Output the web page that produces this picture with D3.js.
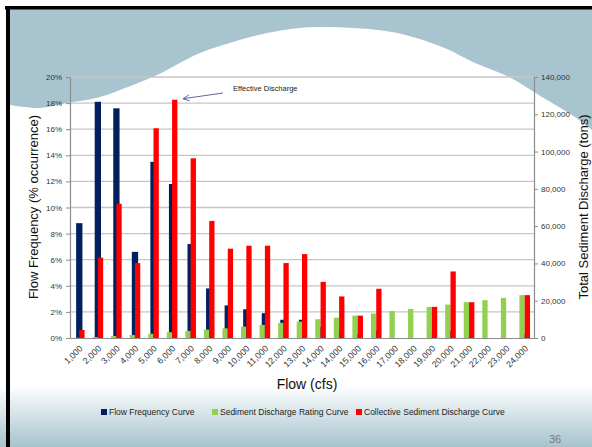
<!DOCTYPE html>
<html><head><meta charset="utf-8">
<script src="https://cdn.jsdelivr.net/npm/d3@7/dist/d3.min.js"></script>
<style>
body{margin:0;background:#fff;}
svg{display:block;font-family:"Liberation Sans",Arial,sans-serif;}
</style>
</head><body><svg id="c" width="592" height="447"></svg>
<script>
const categories = ["1,000","2,000","3,000","4,000","5,000","6,000","7,000","8,000","9,000","10,000","11,000","12,000","13,000","14,000","14,000","15,000","16,000","17,000","18,000","19,000","20,000","21,000","22,000","23,000","24,000"];
// Flow frequency (% occurrence) - left axis
const flowFrequency = [8.8,18.1,17.6,6.6,13.5,11.8,7.2,3.8,2.5,2.2,1.9,1.4,1.4,0.84,0.56,0.28,0.56,0,0,0.28,0.56,0.28,0,0,0.28];
// Sediment discharge rating (tons) - right axis
const sedimentRating = [150,500,1100,1600,2300,3100,3800,4500,5200,6100,7000,8100,8800,10100,10900,12000,13100,14500,15600,16700,17900,19200,20300,21500,23000];
// Collective sediment discharge (tons) - right axis
const collectiveSediment = [4300,43100,72000,40200,112500,127800,96400,62800,47900,49500,49500,40200,45000,30100,22300,12000,26400,0,0,16700,35700,19200,0,0,23000];
const leftTicks = [0,2,4,6,8,10,12,14,16,18,20];
const rightTicks = [0,20000,40000,60000,80000,100000,120000,140000];
const seriesNames = ["Flow Frequency Curve","Sediment Discharge Rating Curve","Collective Sediment Discharge Curve"];
const seriesColors = ["#002060","#92d050","#ff0000"];

const svg = d3.select("#c");
const defs = svg.append("defs");
const grad = defs.append("linearGradient").attr("id","bg").attr("x1",0).attr("y1",0).attr("x2",0).attr("y2",1);
grad.append("stop").attr("offset","0").attr("stop-color","#ffffff");
grad.append("stop").attr("offset","1").attr("stop-color","#a6c3cd");
svg.append("rect").attr("x",0).attr("y",385).attr("width",592).attr("height",62).attr("fill","url(#bg)");

// decorative wave
const wavePts = [[10,105],[40,108],[67,103],[100,97],[133,85],[157,75],[200,53],[233,42],[267,33],[300,28],[325,27],[392,32],[442,47],[475,63],[509,77],[542,97],[575,117],[592,130]];
const ws = d3.line().curve(d3.curveCatmullRom)(wavePts);
svg.append("path").attr("d","M10,9L"+ws.slice(1)+"L592,9Z").attr("fill","#a8c5cf");

// frame
svg.append("rect").attr("x",5).attr("y",6).attr("width",587).attr("height",3.5).attr("fill","#000");
svg.append("rect").attr("x",6).attr("y",6).attr("width",4).attr("height",441).attr("fill","#000");

const X0=70, X1=534, Y0=77, Y1=338;
const x = d3.scaleBand().domain(d3.range(categories.length)).range([X0,X1]);
const yL = d3.scaleLinear().domain([0,20]).range([Y1,Y0]);
const yR = d3.scaleLinear().domain([0,140000]).range([Y1,Y0]);
const bw = x.bandwidth();

// gridlines
svg.append("g").selectAll("line").data(leftTicks.filter(d=>d>0)).join("line")
  .attr("x1",X0).attr("x2",X1).attr("y1",d=>yL(d)).attr("y2",d=>yL(d))
  .attr("stroke","#c6c6c6").attr("stroke-width",1.3);

// bars
const cx = i => x(i)+bw/2;
const bBlue = 6.3, bSec = 5.3;
svg.append("g").selectAll("rect").data(flowFrequency).join("rect")
  .attr("x",(d,i)=>cx(i)-bBlue/2).attr("width",bBlue)
  .attr("y",d=>yL(d)).attr("height",d=>Y1-yL(d)).attr("fill",seriesColors[0]);
svg.append("g").selectAll("rect").data(sedimentRating).join("rect")
  .attr("x",(d,i)=>cx(i)-bSec).attr("width",bSec)
  .attr("y",d=>yR(d)).attr("height",d=>Y1-yR(d)).attr("fill",seriesColors[1]);
svg.append("g").selectAll("rect").data(collectiveSediment).join("rect")
  .attr("x",(d,i)=>cx(i)).attr("width",bSec)
  .attr("y",d=>yR(d)).attr("height",d=>Y1-yR(d)).attr("fill",seriesColors[2]);

// axes
const axL = svg.append("g").attr("transform",`translate(${X0},0)`)
  .call(d3.axisLeft(yL).tickValues(leftTicks).tickFormat(d=>d+"%").tickSize(4).tickSizeOuter(0).tickPadding(4));
const axR = svg.append("g").attr("transform",`translate(${X1},0)`)
  .call(d3.axisRight(yR).tickValues(rightTicks).tickFormat(d3.format(",")).tickSize(4).tickSizeOuter(0).tickPadding(3));
const axB = svg.append("g").attr("transform",`translate(0,${Y1})`)
  .call(d3.axisBottom(x).tickSize(0).tickSizeOuter(0).tickFormat(i=>categories[i]).tickPadding(0));
[axL,axR,axB].forEach(a=>{
  a.select(".domain").attr("stroke","#8c8c8c").attr("stroke-width",1.2);
  a.selectAll(".tick line").attr("stroke","#8c8c8c");
  a.selectAll("text").attr("font-size",8).attr("fill","#333").attr("font-family","'Liberation Sans',Arial,sans-serif");
});
axB.selectAll("text").attr("text-anchor","end").attr("dy",0).attr("font-size",8.8)
  .attr("transform","translate(4,11) rotate(-45)");

// titles
svg.append("text").attr("transform","translate(38,207) rotate(-90)").attr("text-anchor","middle")
  .attr("font-size",13).attr("fill","#111").text("Flow Frequency (% occurrence)");
svg.append("text").attr("transform","translate(588,207) rotate(-90)").attr("text-anchor","middle")
  .attr("font-size",13).attr("fill","#111").text("Total Sediment Discharge (tons)");
svg.append("text").attr("x",307).attr("y",389).attr("text-anchor","middle")
  .attr("font-size",14).attr("fill","#111").text("Flow (cfs)");

// annotation
svg.append("text").attr("x",233).attr("y",91).attr("font-size",7.5).attr("fill","#222").text("Effective Discharge");
const ax1=223, ay1=93, ax2=183, ay2=yR(collectiveSediment[5])-1;
svg.append("line").attr("x1",ax1).attr("y1",ay1).attr("x2",ax2).attr("y2",ay2).attr("stroke","#4a5a8a").attr("stroke-width",0.9);
const ang = Math.atan2(ay1-ay2, ax1-ax2);
[0.45,-0.45].forEach(o=>{
  svg.append("line").attr("x1",ax2).attr("y1",ay2)
    .attr("x2",ax2+7*Math.cos(ang+o)).attr("y2",ay2+7*Math.sin(ang+o))
    .attr("stroke","#4a5a8a").attr("stroke-width",0.9);
});

// legend
const legX = [101,212,356];
const lg = svg.append("g").selectAll("g").data(seriesNames).join("g")
  .attr("transform",(d,i)=>`translate(${legX[i]},409)`);
lg.append("rect").attr("width",6).attr("height",6).attr("fill",(d,i)=>seriesColors[i]);
lg.append("text").attr("x",8).attr("y",6).attr("font-size",8.5).attr("fill","#222").text(d=>d);

// page number
svg.append("text").attr("x",549).attr("y",443).attr("font-size",11).attr("fill","#7a7a7a").text("36");
</script></body></html>
